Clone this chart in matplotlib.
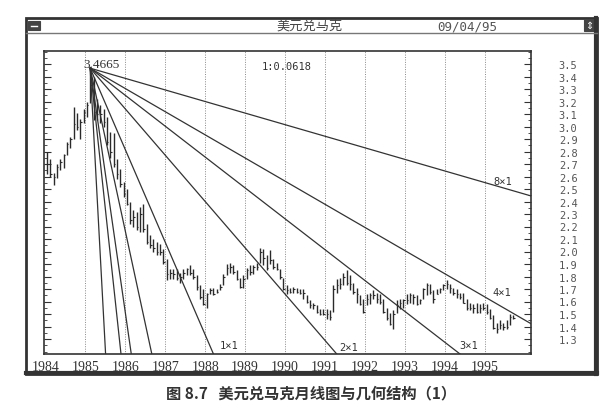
import numpy as np
import matplotlib
matplotlib.use("Agg")
import matplotlib.pyplot as plt
from matplotlib.patches import Rectangle
from matplotlib.lines import Line2D

# ---------------- data ----------------
start_year = 1984
highs = [
    2.80, 2.74, 2.63, 2.70, 2.74, 2.78, 2.88, 2.92, 3.16, 3.11, 3.06, 3.14,
    3.20, 3.4665, 3.40, 3.22, 3.17, 3.14, 3.08, 2.96, 2.95, 2.74, 2.66, 2.56,
    2.50, 2.40, 2.33, 2.32, 2.36, 2.38, 2.22, 2.13, 2.10, 2.08, 2.06, 2.02,
    1.94, 1.86, 1.86, 1.86, 1.83, 1.86, 1.87, 1.89, 1.86, 1.81, 1.73, 1.70,
    1.67, 1.71, 1.71, 1.70, 1.74, 1.82, 1.90, 1.91, 1.89, 1.85, 1.79, 1.81,
    1.87, 1.89, 1.89, 1.91, 2.03, 2.02, 1.97, 2.01, 1.94, 1.91, 1.86, 1.79,
    1.73, 1.71, 1.72, 1.71, 1.70, 1.70, 1.65, 1.61, 1.59, 1.57, 1.54, 1.54,
    1.54, 1.53, 1.73, 1.78, 1.79, 1.83, 1.85, 1.81, 1.75, 1.71, 1.65, 1.62,
    1.66, 1.67, 1.69, 1.67, 1.66, 1.62, 1.55, 1.51, 1.53, 1.61, 1.62, 1.62,
    1.66, 1.67, 1.66, 1.65, 1.62, 1.71, 1.75, 1.74, 1.69, 1.70, 1.71, 1.74,
    1.77, 1.74, 1.71, 1.70, 1.67, 1.67, 1.62, 1.59, 1.58, 1.59, 1.58, 1.59,
    1.58, 1.54, 1.49, 1.43, 1.45, 1.43, 1.45, 1.50, 1.49,
]
lows = [
    2.62, 2.60, 2.53, 2.59, 2.65, 2.67, 2.77, 2.83, 2.90, 2.97, 2.90, 3.03,
    3.08, 3.19, 3.05, 3.05, 3.03, 3.00, 2.85, 2.75, 2.68, 2.58, 2.52, 2.44,
    2.37, 2.22, 2.20, 2.17, 2.16, 2.16, 2.06, 2.03, 2.00, 1.97, 1.97, 1.90,
    1.77, 1.78, 1.78, 1.77, 1.75, 1.78, 1.81, 1.81, 1.78, 1.69, 1.62, 1.57,
    1.55, 1.66, 1.65, 1.67, 1.69, 1.73, 1.81, 1.83, 1.82, 1.77, 1.71, 1.71,
    1.78, 1.81, 1.82, 1.85, 1.91, 1.89, 1.85, 1.90, 1.86, 1.85, 1.78, 1.69,
    1.66, 1.67, 1.67, 1.67, 1.66, 1.62, 1.59, 1.55, 1.54, 1.51, 1.49, 1.49,
    1.46, 1.45, 1.52, 1.67, 1.70, 1.73, 1.73, 1.69, 1.66, 1.59, 1.57, 1.51,
    1.57, 1.58, 1.62, 1.59, 1.58, 1.51, 1.45, 1.41, 1.38, 1.51, 1.54, 1.55,
    1.58, 1.59, 1.58, 1.57, 1.58, 1.62, 1.65, 1.66, 1.59, 1.66, 1.67, 1.69,
    1.70, 1.67, 1.65, 1.63, 1.62, 1.59, 1.53, 1.53, 1.51, 1.51, 1.51, 1.53,
    1.50, 1.46, 1.38, 1.35, 1.38, 1.37, 1.38, 1.41, 1.46,
]
closes = [
    2.70, 2.62, 2.60, 2.68, 2.72, 2.77, 2.86, 2.90, 3.02, 3.00, 3.04, 3.12,
    3.17, 3.33, 3.12, 3.10, 3.10, 3.04, 2.88, 2.80, 2.70, 2.62, 2.54, 2.46,
    2.38, 2.25, 2.28, 2.20, 2.30, 2.18, 2.08, 2.05, 2.03, 2.00, 2.00, 1.92,
    1.82, 1.83, 1.82, 1.79, 1.80, 1.83, 1.86, 1.83, 1.80, 1.72, 1.64, 1.58,
    1.66, 1.69, 1.66, 1.68, 1.72, 1.80, 1.87, 1.88, 1.84, 1.78, 1.72, 1.78,
    1.85, 1.84, 1.88, 1.88, 2.00, 1.95, 1.87, 1.93, 1.88, 1.86, 1.80, 1.70,
    1.69, 1.68, 1.70, 1.68, 1.67, 1.67, 1.60, 1.57, 1.57, 1.52, 1.50, 1.50,
    1.50, 1.48, 1.70, 1.73, 1.74, 1.80, 1.75, 1.74, 1.68, 1.66, 1.58, 1.52,
    1.62, 1.65, 1.65, 1.62, 1.60, 1.52, 1.47, 1.42, 1.50, 1.57, 1.59, 1.61,
    1.61, 1.65, 1.64, 1.58, 1.61, 1.70, 1.73, 1.68, 1.62, 1.66, 1.70, 1.73,
    1.74, 1.71, 1.67, 1.66, 1.64, 1.59, 1.55, 1.55, 1.55, 1.52, 1.55, 1.55,
    1.52, 1.47, 1.39, 1.38, 1.41, 1.40, 1.40, 1.48, 1.47,
]
peak_price = 3.4665
peak_month_index = 13            # Feb 1985
unit_per_month = 0.0618          # 1:0.0618 scale
fan_ratios = [8, 4, 3, 2, 1, 1/2, 1/3, 1/4, 1/8]   # price units per time unit
fan_labels = ["1×1", "2×1", "3×1", "4×1", "8×1"]
year_ticks = list(range(1984, 1996))
price_ticks = [round(1.3 + 0.1 * i, 1) for i in range(23)]

title_text = "美元兑马克"
date_text = "09/04/95"
scale_text = "1:0.0618"
caption_text = "图 8.7   美元兑马克月线图与几何结构（1）"

# ---------------- figure ----------------
W, H = 600, 414
fig = plt.figure(figsize=(W / 100, H / 100), dpi=100)
fig.patch.set_facecolor("white")

def fx(px):
    return px / W

def fy(py):
    return 1 - py / H

CJK = ["Noto Sans CJK SC", "DejaVu Sans"]
ink = "#2a2a2a"

# window frame
fig.add_artist(Rectangle((fx(26), fy(375)), fx(597) - fx(26), fy(19) - fy(375),
                         transform=fig.transFigure, fill=False, ec="#333333", lw=2.0))
fig.add_artist(Line2D([fx(596), fx(596)], [fy(375), fy(19)], transform=fig.transFigure,
                      color="#333333", lw=3))
fig.add_artist(Line2D([fx(26), fx(597)], [fy(374), fy(374)], transform=fig.transFigure,
                      color="#333333", lw=3))
fig.add_artist(Line2D([fx(26), fx(597)], [fy(34), fy(34)], transform=fig.transFigure,
                      color="#777777", lw=1.0))
# title-bar icons
fig.add_artist(Rectangle((fx(28), fy(31)), fx(40) - fx(28), fy(22) - fy(31),
                         transform=fig.transFigure, fc="#444444", ec="#444444", lw=0.8))
fig.add_artist(Line2D([fx(31), fx(37)], [fy(26.5), fy(26.5)], transform=fig.transFigure,
                      color="white", lw=1.0))
fig.add_artist(Rectangle((fx(584), fy(32)), fx(595) - fx(584), fy(20) - fy(32),
                         transform=fig.transFigure, fc="#444444", ec="#444444", lw=0.8))
fig.text(fx(589.5), fy(26.3), "⇕", color="white", fontsize=7, ha="center", va="center",
         family="DejaVu Sans")
fig.text(fx(310), fy(26.5), title_text, family=CJK, fontsize=9.5, color="#444444",
         ha="center", va="center", weight="light")
fig.text(fx(497), fy(27), date_text, family="DejaVu Sans Mono", fontsize=9,
         color="#555555", ha="right", va="center")

# caption
fig.text(fx(311), fy(393), caption_text, family=CJK, fontsize=11, weight="bold",
         color="#333333", ha="center", va="center")

# ---------------- axes ----------------
ax = fig.add_axes([fx(44), fy(355), fx(531) - fx(44), fy(52) - fy(355)])
ax.set_xlim(1983.97, 1996.15)
ax.set_ylim(1.18, 3.604)
for s in ax.spines.values():
    s.set_color("#333333")
    s.set_linewidth(1.2)

n = len(highs)
xs = np.array([start_year + (i + 0.5) / 12 for i in range(n)])
ax.vlines(xs, lows, highs, color=ink, lw=1.0)
ax.hlines(closes, xs, xs + 0.035, color=ink, lw=0.8)

# year grid
ax.set_xticks(year_ticks)
ax.set_xticklabels([str(y) for y in year_ticks], family="Liberation Serif",
                   fontsize=10, color="#333333")
ax.tick_params(axis="x", length=0, pad=4)
for y in year_ticks[1:]:
    ax.axvline(y, color="#888888", lw=0.7, ls=(0, (1, 1.5)), zorder=0)

# price ticks
ax.set_yticks(price_ticks)
ax.set_yticklabels([f"{v:.1f}" for v in price_ticks], family="DejaVu Sans Mono",
                   fontsize=7.5, color="#555555")
ax.yaxis.set_minor_locator(matplotlib.ticker.MultipleLocator(0.05))
ax.tick_params(axis="y", which="both", direction="in", left=True, right=True,
               labelleft=False, labelright=True, color="#333333")
ax.tick_params(axis="y", which="major", length=5, pad=20)
ax.tick_params(axis="y", which="minor", length=2.5)

# Gann fan
x0 = xs[peak_month_index]
x_end = 1996.15
for r in fan_ratios:
    slope = r * unit_per_month * 12
    ax.plot([x0, x_end], [peak_price, peak_price - slope * (x_end - x0)],
            color="#333333", lw=0.9, clip_on=True)

mono = "DejaVu Sans Mono"
ax.text(1988.6, 1.25, fan_labels[0], family=mono, fontsize=7.5, color="#333333",
        ha="center", va="center")
ax.text(1991.6, 1.235, fan_labels[1], family=mono, fontsize=7.5, color="#333333",
        ha="center", va="center")
ax.text(1994.6, 1.25, fan_labels[2], family=mono, fontsize=7.5, color="#333333",
        ha="center", va="center")
ax.text(1995.43, 1.676, fan_labels[3], family=mono, fontsize=7.5, color="#333333",
        ha="center", va="center")
ax.text(1995.45, 2.564, fan_labels[4], family=mono, fontsize=7.5, color="#333333",
        ha="center", va="center")
ax.text(1990.03, 3.484, scale_text, family=mono, fontsize=7.5, color="#333333",
        ha="center", va="center")
ax.text(1985.4, 3.50, f"{peak_price:.4f}", family="Liberation Serif", fontsize=9.5,
        color="#333333", ha="center", va="center")

fig.savefig("out.png", dpi=100, facecolor="white")
